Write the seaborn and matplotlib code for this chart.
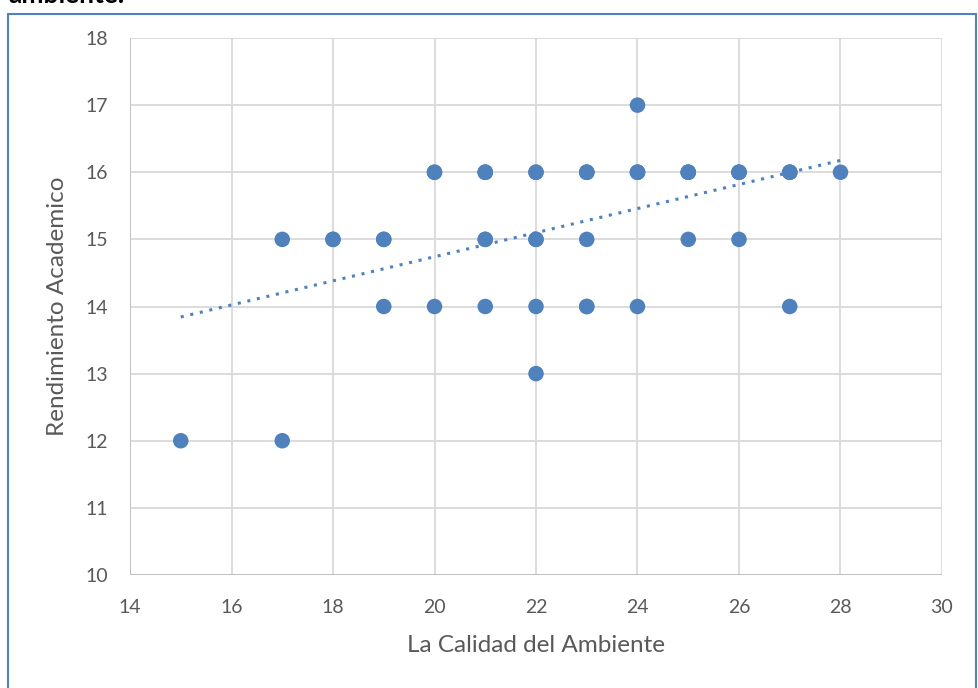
import matplotlib
matplotlib.use("Agg")
import matplotlib.pyplot as plt
import seaborn as sns
import numpy as np
import pandas as pd
from matplotlib.patches import Rectangle

calidad = [15, 17, 17, 18, 18, 19, 19, 19, 20, 20, 20, 21, 21, 21, 21, 21, 21, 22, 22, 22, 22, 22, 22,
           23, 23, 23, 23, 23, 23, 24, 24, 24, 24, 24, 25, 25, 25, 25, 26, 26, 26, 26, 27, 27, 27, 27, 28]
rendimiento = [12, 12, 15, 15, 15, 15, 15, 14, 16, 16, 14, 16, 16, 16, 15, 15, 14, 16, 16, 15, 15, 14, 13,
               16, 16, 16, 15, 14, 14, 17, 16, 16, 16, 14, 16, 16, 16, 15, 16, 16, 16, 15, 16, 16, 16, 14, 16]
x_ticks = [14, 16, 18, 20, 22, 24, 26, 28, 30]
y_ticks = [10, 11, 12, 13, 14, 15, 16, 17, 18]

df = pd.DataFrame({"x": calidad, "y": rendimiento})

sns.set_theme(style="white")
plt.rcParams["font.family"] = ["Lato", "DejaVu Sans"]

fig = plt.figure(figsize=(9.79, 6.88), dpi=100)
ax = fig.add_axes([130 / 979, 1 - 575 / 688, (942 - 130) / 979, (575 - 38) / 688])

blue = "#4F81BD"
sns.scatterplot(data=df, x="x", y="y", ax=ax, color=blue, s=125, edgecolor="none", zorder=3)

coef = np.polyfit(df["x"], df["y"], 1)
xs = np.array([min(calidad), max(calidad)])
ax.plot(xs, np.polyval(coef, xs), linestyle=(0, (1, 2.2)), color=blue, linewidth=2.2, zorder=2)

ax.set_xlim(14, 30)
ax.set_ylim(10, 18)
ax.set_xticks(x_ticks)
ax.set_yticks(y_ticks)
ax.grid(True, color="#D9D9D9", linewidth=1.3)
for s in ax.spines.values():
    s.set_visible(False)
ax.axvline(14, color="#BFBFBF", linewidth=1.3, zorder=1)
ax.axhline(10, color="#BFBFBF", linewidth=1.3, zorder=1)
ax.tick_params(axis="x", length=0, labelsize=14, labelcolor="#595959", pad=17)
ax.tick_params(axis="y", length=0, labelsize=14, labelcolor="#595959", pad=16)
ax.set_xlabel("La Calidad del Ambiente", fontsize=17.5, color="#595959", labelpad=14)
ax.set_ylabel("Rendimiento Academico", fontsize=17.5, color="#595959", labelpad=12)

fig.patches.append(Rectangle((8 / 979, -0.05), (976 - 8) / 979, 1 - 14 / 688 + 0.05,
                             transform=fig.transFigure, fill=False, edgecolor="#4F81BD",
                             linewidth=1.5, zorder=0))
fig.text(8 / 979, 1 - 3 / 688, "ambiente.", fontsize=19, fontweight="bold", color="black",
         va="baseline", ha="left")

fig.savefig("out.png", dpi=100)
